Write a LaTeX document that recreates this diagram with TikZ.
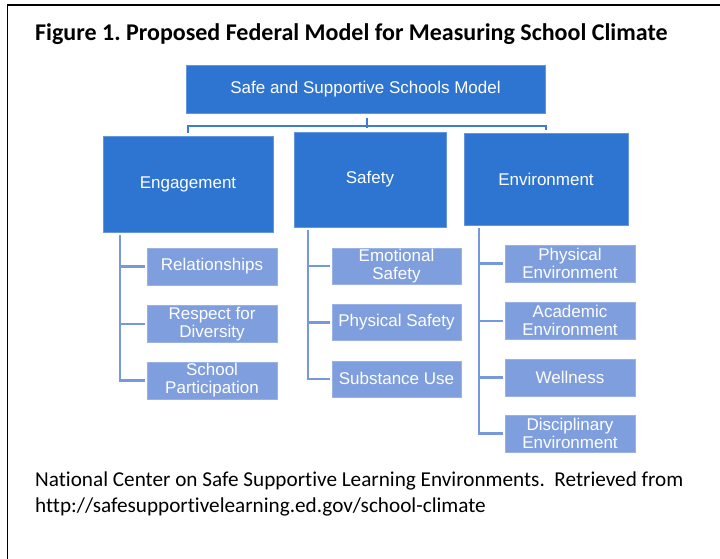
\documentclass[tikz,border=0pt]{standalone}
\usepackage{fontspec}
\setmainfont{Carlito}[Ligatures={NoCommon}]
\newfontfamily\arialfont{Liberation Sans}
\usetikzlibrary{positioning}
\definecolor{mainblue}{RGB}{46,117,210}
\definecolor{subblue}{RGB}{127,158,222}
\definecolor{linkblue}{RGB}{118,152,220}
\definecolor{bracketblue}{RGB}{62,124,210}
\frenchspacing

\begin{document}
\begin{tikzpicture}[x=1pt,y=-1pt,
  mainbox/.style={fill=mainblue,draw=mainblue!75!white,text=white,font=\boxfont,inner sep=0pt},
  subbox/.style={fill=subblue,draw=subblue!80!white,text=white,font=\boxfont,align=center,
    minimum width=130pt,minimum height=37pt,inner sep=0pt},
  trunk/.style={draw=linkblue,line width=2.5pt,shorten >=2pt},
  bracket/.style={draw=bracketblue,line width=2.5pt}]

\def\titlefont{\bfseries\fontsize{24}{28}\selectfont}
\def\boxfont{\arialfont\fontsize{17}{18}\selectfont}
\def\notefont{\fontsize{21.2}{26}\selectfont}

\useasboundingbox (0,0) rectangle (720,559);
\draw[line width=1.8pt] (720,5) -- (7.5,5) -- (7.5,559);

\node[font=\titlefont,anchor=base west,inner sep=0pt] (title) at (35,41) {Figure 1. Proposed Federal Model for Measuring School Climate};

% top level and the three domains
\node[mainbox,minimum width=359pt,minimum height=48pt] (model) at (365.5,89.5) {Safe and Supportive Schools Model};
\node[mainbox,minimum width=170pt,minimum height=96pt] (eng) at (188,184) {Engagement};
\node[mainbox,minimum width=152pt,minimum height=95pt] (saf) at (370,179.5) {Safety};
\node[mainbox,minimum width=164pt,minimum height=92pt] (env) at (546,179) {Environment};

\coordinate (barmid) at (367,126);
\coordinate (kinktop) at (367,118);
\draw[bracket] ([yshift=3pt]eng.north) |- (barmid) -| ([yshift=3pt]env.north);
\draw[bracket] (kinktop) -- ([yshift=-2pt]barmid);

% engagement topics
\node[subbox] (rel) at (212,266.5) {Relationships};
\node[subbox,below=20pt of rel] (resp) {Respect for\\Diversity};
\node[subbox,below=19pt of resp] (part) {School\\Participation};

% safety topics
\node[subbox,minimum width=129pt,minimum height=36pt] (emo) at (396.5,266) {Emotional\\Safety};
\node[subbox,minimum width=129pt,minimum height=36pt,below=20pt of emo] (phys) {Physical Safety};
\node[subbox,minimum width=129pt,minimum height=36pt,below=20pt of phys] (subst) {Substance Use};

% environment topics
\node[subbox] (physenv) at (570,263.5) {Physical\\Environment};
\node[subbox,below=20pt of physenv] (acad) {Academic\\Environment};
\node[subbox,below=19pt of acad] (well) {Wellness};
\node[subbox,below=19pt of well] (disc) {Disciplinary\\Environment};

\coordinate (engroot) at (120,235);
\coordinate (safroot) at (308,230);
\coordinate (envroot) at (479,228);
\foreach \t in {rel,resp,part} \draw[trunk] (engroot) |- (\t.west);
\foreach \t in {emo,phys,subst} \draw[trunk] (safroot) |- (\t.west);
\foreach \t in {physenv,acad,well,disc} \draw[trunk] (envroot) |- (\t.west);

% two-line note, base anchor sits on the last line
\node[font=\notefont,anchor=base west,align=left,inner sep=0pt] (source) at (35,512)
  {National Center on Safe Supportive Learning Environments.\ \ Retrieved from\\
   http://safesupportivelearning.ed.gov/school-climate};
\end{tikzpicture}
\end{document}
